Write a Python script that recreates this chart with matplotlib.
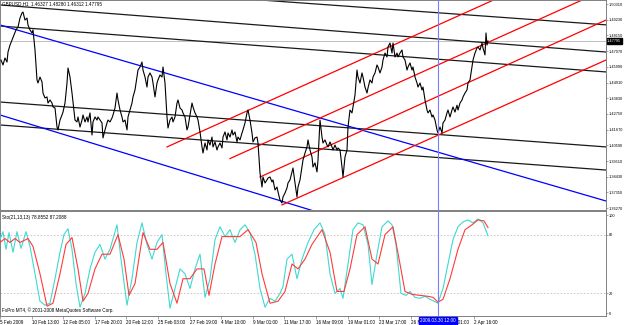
import matplotlib
matplotlib.use('Agg')
import matplotlib.pyplot as plt

FONT = ['Liberation Sans', 'DejaVu Sans']
FS = 3.3
FS_R = 2.75
plt.rcParams['font.family'] = FONT

# ---------------- data ----------------
bar_x = [1, 3, 5, 7, 8, 10, 12, 14, 16, 18, 20, 22, 23, 25, 27, 28, 30, 32, 33, 35,
         37, 38, 40, 42, 43, 45, 47, 48, 50, 52, 53, 55, 57, 58, 60, 62, 63, 65, 67, 68,
         70, 72, 73, 75, 77, 78, 80, 82, 83, 85, 87, 88, 90, 92, 93, 95, 97, 98, 100, 102,
         103, 105, 107, 108, 110, 112, 113, 115, 117, 118, 120, 122, 123, 125, 127, 128, 130, 132, 133, 135,
         137, 138, 140, 142, 143, 145, 147, 148, 150, 152, 153, 155, 157, 158, 160, 162, 163, 165, 167, 168,
         170, 172, 173, 175, 177, 178, 180, 182, 183, 185, 187, 188, 190, 192, 193, 195, 197, 198, 200, 202,
         203, 205, 207, 208, 210, 212, 213, 215, 217, 218, 220, 222, 223, 225, 227, 228, 230, 232, 233, 235,
         237, 238, 240, 242, 243, 245, 247, 248, 250, 252, 253, 255, 257, 258, 260, 262, 263, 265, 267, 268,
         270, 272, 273, 275, 277, 278, 280, 282, 283, 285, 287, 288, 290, 292, 293, 295, 297, 298, 300, 302,
         303, 305, 307, 308, 310, 312, 313, 315, 317, 318, 320, 322, 323, 325, 327, 328, 330, 332, 333, 335,
         337, 338, 340, 342, 343, 345, 347, 348, 350, 352, 353, 355, 357, 358, 360, 362, 363, 365, 367, 368,
         370, 372, 373, 375, 377, 378, 380, 382, 383, 385, 387, 388, 390, 392, 393, 395, 397, 398, 400, 402,
         403, 405, 407, 408, 410, 412, 413, 415, 417, 418, 420, 422, 423, 425, 427, 428, 430, 432, 433, 435,
         437, 438, 440, 442, 443, 445, 447, 448, 450, 452, 453, 455, 457, 458, 460, 462, 463, 465, 467, 468,
         470, 472, 473, 475, 477, 478, 480, 482, 483, 485, 486, 487, 488]
close = [1.4646, 1.4612, 1.4660, 1.4632, 1.4701, 1.4749, 1.4784, 1.4818, 1.4853, 1.4873, 1.4935, 1.4970, 1.4976, 1.4921, 1.4935, 1.4887, 1.4853, 1.4832, 1.4853, 1.4715,
         1.4509, 1.4488, 1.4529, 1.4495, 1.4419, 1.4385, 1.4392, 1.4350, 1.4371, 1.4350, 1.4323, 1.4316, 1.4185, 1.4165, 1.4233, 1.4268, 1.4288, 1.4350, 1.4488, 1.4591,
         1.4529, 1.4419, 1.4357, 1.4233, 1.4220, 1.4254, 1.4185, 1.4233, 1.4268, 1.4220, 1.4254, 1.4220, 1.4282, 1.4130, 1.4220, 1.4254, 1.4233, 1.4254, 1.4233, 1.4213,
         1.4110, 1.4165, 1.4213, 1.4233, 1.4220, 1.4247, 1.4268, 1.4316, 1.4419, 1.4371, 1.4302, 1.4254, 1.4220, 1.4233, 1.4165, 1.4254, 1.4302, 1.4350, 1.4392, 1.4440,
         1.4529, 1.4577, 1.4598, 1.4632, 1.4577, 1.4529, 1.4460, 1.4529, 1.4557, 1.4529, 1.4488, 1.4392, 1.4488, 1.4509, 1.4543, 1.4529, 1.4598, 1.4488, 1.4254, 1.4178,
         1.4233, 1.4254, 1.4220, 1.4254, 1.4350, 1.4371, 1.4316, 1.4302, 1.4282, 1.4254, 1.4165, 1.4185, 1.4268, 1.4350, 1.4323, 1.4282, 1.4254, 1.4233, 1.4151, 1.4048,
         1.4006, 1.4075, 1.4027, 1.4096, 1.4061, 1.4116, 1.4048, 1.4082, 1.4027, 1.4048, 1.4075, 1.4041, 1.4116, 1.4151, 1.4096, 1.4144, 1.4116, 1.4165, 1.4130, 1.4151,
         1.4082, 1.4116, 1.4096, 1.4144, 1.4165, 1.4213, 1.4282, 1.4302, 1.4233, 1.4144, 1.4082, 1.4110, 1.4116, 1.4075, 1.3869, 1.3772, 1.3841, 1.3800, 1.3821, 1.3834,
         1.3841, 1.3807, 1.3821, 1.3752, 1.3772, 1.3738, 1.3683, 1.3662, 1.3704, 1.3731, 1.3766, 1.3800, 1.3821, 1.3876, 1.3903, 1.3800, 1.3704, 1.3772, 1.3821, 1.3910,
         1.3958, 1.4006, 1.4048, 1.4096, 1.4027, 1.3979, 1.3910, 1.3938, 1.3876, 1.3958, 1.4233, 1.4116, 1.4075, 1.4096, 1.4061, 1.4048, 1.4082, 1.4048, 1.4027, 1.4061,
         1.4027, 1.4041, 1.4027, 1.3910, 1.3841, 1.3979, 1.4027, 1.4185, 1.4302, 1.4282, 1.4323, 1.4405, 1.4577, 1.4529, 1.4488, 1.4557, 1.4529, 1.4460, 1.4419, 1.4454,
         1.4509, 1.4488, 1.4529, 1.4557, 1.4612, 1.4598, 1.4557, 1.4598, 1.4646, 1.4694, 1.4667, 1.4736, 1.4763, 1.4694, 1.4763, 1.4667, 1.4694, 1.4667, 1.4694, 1.4715,
         1.4667, 1.4646, 1.4577, 1.4598, 1.4626, 1.4577, 1.4598, 1.4529, 1.4488, 1.4460, 1.4488, 1.4440, 1.4460, 1.4371, 1.4302, 1.4282, 1.4302, 1.4254, 1.4268, 1.4233,
         1.4165, 1.4144, 1.4185, 1.4144, 1.4213, 1.4233, 1.4282, 1.4302, 1.4254, 1.4302, 1.4323, 1.4288, 1.4335, 1.4302, 1.4350, 1.4371, 1.4392, 1.4419, 1.4440, 1.4488,
         1.4509, 1.4598, 1.4646, 1.4694, 1.4729, 1.4736, 1.4715, 1.4763, 1.4729, 1.4681, 1.4832, 1.4749, 1.4777]

# trendlines: (x0, price0, x1, price1)
black_lines = [(0, 1.5188, 606, 1.4888),
               (0, 1.5025, 606, 1.4701),
               (0, 1.4880, 606, 1.4564),
               (0, 1.4357, 606, 1.4048),
               (0, 1.4199, 606, 1.3889)]
blue_lines = [(0, 1.4887, 606, 1.3676),
              (0, 1.4268, 340, 1.3552)]
red_lines = [(167, 1.4048, 606, 1.5407),
             (230, 1.3968, 606, 1.5133),
             (260, 1.3841, 606, 1.4921),
             (282, 1.3649, 606, 1.4646)]

bid_price = 1.4777
bid_label = '1.47795'
cursor_bar = 438
cursor_label = '2009.03.30 12:00'

price_ticks = [1.36270, 1.37350, 1.38430, 1.39510, 1.40590, 1.41670, 1.42750,
               1.43830, 1.44910, 1.45990, 1.47070, 1.48150, 1.49230, 1.50310]

sto_x = [0, 3, 6, 9, 13, 17, 21, 26, 30, 35, 40, 45, 50, 55, 60, 64, 68, 72, 76, 80,
         85, 90, 95, 100, 105, 110, 117, 121, 127, 132, 137, 142, 147, 152, 157, 162, 166, 170, 175, 180,
         185, 190, 195, 200, 205, 210, 215, 220, 225, 230, 235, 240, 245, 250, 255, 260, 265, 270, 275, 280,
         283, 287, 292, 297, 302, 308, 314, 320, 325, 330, 335, 340, 343, 348, 353, 358, 363, 368, 372, 377,
         382, 388, 392, 396, 401, 406, 410, 415, 420, 425, 430, 434, 438, 443, 448, 453, 458, 463, 468, 473,
         478, 483, 488]
sto_main = [75, 83, 65, 82, 62, 83, 66, 83, 68, 40, 12, 8, 10, 35, 62, 80, 86, 65, 30, 6,
            20, 45, 62, 70, 55, 65, 90, 55, 8, 35, 72, 92, 70, 55, 72, 80, 40, 5, 25, 45,
            40, 25, 45, 60, 16, 35, 75, 88, 78, 85, 72, 85, 90, 82, 60, 25, 6, 15, 12, 20,
            27, 55, 60, 35, 55, 72, 85, 92, 80, 40, 20, 25, 15, 50, 85, 92, 90, 70, 29, 60,
            88, 94, 90, 70, 20, 18, 22, 16, 15, 17, 14, 12, 10, 25, 50, 75, 88, 93, 95, 92,
            96, 92, 78.9]
sig_x = [0, 5, 10, 15, 20, 28, 33, 40, 47, 53, 60, 66, 72, 78, 83, 88, 95, 102, 110, 118,
         124, 129, 135, 143, 150, 157, 163, 170, 177, 183, 190, 197, 204, 209, 215, 222, 230, 240, 248, 256,
         262, 270, 278, 285, 292, 298, 305, 312, 322, 330, 337, 344, 350, 357, 365, 372, 378, 385, 393, 400,
         405, 412, 420, 428, 433, 438, 443, 450, 458, 465, 472, 478, 484, 488]
sto_signal = [72, 76, 72, 76, 72, 76, 68, 40, 7, 10, 40, 70, 77, 45, 12, 20, 45, 60, 60, 80,
              55, 18, 30, 82, 65, 65, 72, 30, 10, 35, 35, 45, 45, 18, 50, 78, 78, 78, 85, 72,
              40, 10, 12, 22, 50, 45, 55, 70, 85, 62, 22, 22, 45, 80, 88, 55, 50, 80, 88, 50,
              22, 19, 18, 17, 16, 11, 14, 35, 65, 85, 90, 95, 94, 87.2]
sto_levels = [20, 80]
sto_ticks = [0, 20, 80, 100]

time_tick_x = [0, 31.6, 63.2, 94.8, 126.4, 158, 189.6, 221.2, 252.8, 284.4,
               316, 347.6, 379.2, 410.8, 442.4, 474]
time_labels = ['5 Feb 2009', '10 Feb 13:00', '12 Feb 05:00', '17 Feb 20:00', '20 Feb 12:00',
               '25 Feb 03:00', '27 Feb 19:00', '4 Mar 10:00', '9 Mar 01:00', '11 Mar 17:00',
               '16 Mar 09:00', '19 Mar 01:00', '23 Mar 17:00', '26 Mar 09:00', '31 Mar 01:00',
               '2 Apr 16:00']

# ---------------- figure ----------------
fig = plt.figure(figsize=(6.25, 3.25), dpi=100)
fig.patch.set_facecolor('white')

FW, FH = 625.0, 325.0
ax = fig.add_axes([0, (FH - 210) / FH, 606 / FW, 210 / FH])
axi = fig.add_axes([0, (FH - 316) / FH, 606 / FW, 105 / FH])

SPINE = '#808080'
for a in (ax, axi):
    a.set_facecolor('white')
    a.set_xlim(0, 606)
    for s in a.spines.values():
        s.set_color(SPINE)
        s.set_linewidth(0.7)

ax.set_ylim(1.3614, 1.5059)
axi.set_ylim(-3.06, 104.1)

# main panel
ax.axhline(bid_price, color='#c0c0c0', lw=0.7, zorder=1)
for x0, y0, x1, y1 in black_lines:
    ax.plot([x0, x1], [y0, y1], color='#1a1a1a', lw=0.9, zorder=2)
for x0, y0, x1, y1 in blue_lines:
    ax.plot([x0, x1], [y0, y1], color='#0000ff', lw=0.9, zorder=2)
for x0, y0, x1, y1 in red_lines:
    ax.plot([x0, x1], [y0, y1], color='#ff0000', lw=0.9, zorder=2)
ax.plot(bar_x, close, color='black', lw=0.8, zorder=3)
ax.axvline(cursor_bar, color='#7b7bff', lw=0.8, zorder=4)

ax.yaxis.tick_right()
ax.set_yticks(price_ticks)
ax.set_yticklabels([f'{v:.5f}' for v in price_ticks])
ax.tick_params(axis='y', direction='out', length=1.5, width=0.5, pad=0.6,
               labelsize=FS_R, colors=SPINE, labelcolor='black')
ax.set_xticks([])

ax.annotate(bid_label, xy=(1.0, bid_price), xycoords=('axes fraction', 'data'),
            xytext=(0.8, 0), textcoords='offset points', ha='left', va='center',
            color='white', fontsize=FS_R, zorder=10,
            bbox=dict(boxstyle='square,pad=0.15', fc='black', ec='black'),
            annotation_clip=False)

ax.text(2, 1.5059 - 0.0008, 'GBPUSD,H1  1.46327 1.48280 1.46312 1.47795',
        transform=ax.transData, fontsize=FS, ha='left', va='top', color='black',
        zorder=6)

# indicator panel
for lv in sto_levels:
    axi.axhline(lv, color='#c0c0c0', lw=0.6, ls=(0, (2, 2)), zorder=1)
axi.plot(sto_x, sto_main, color='#40d8d0', lw=0.8, zorder=3)
axi.plot(sig_x, sto_signal, color='#ff3b3b', lw=0.8, zorder=3)
axi.axvline(cursor_bar, color='#7b7bff', lw=0.8, zorder=4)

axi.yaxis.tick_right()
axi.set_yticks(sto_ticks)
axi.set_yticklabels([str(v) for v in sto_ticks])
axi.tick_params(axis='y', direction='out', length=1.5, width=0.5, pad=0.6,
                labelsize=FS_R, colors=SPINE, labelcolor='black')

axi.set_xticks(time_tick_x)
axi.set_xticklabels(time_labels, ha='left')
axi.tick_params(axis='x', direction='out', length=2, width=0.5, pad=1,
                labelsize=FS, colors=SPINE, labelcolor='black')

axi.text(2, 100.5, 'Sto(21,13,13) 78.8552 87.2088', fontsize=FS, ha='left', va='top',
         color='black', zorder=6)
axi.text(2, -0.5, 'FxPro MT4, \u00a9 2001-2008 MetaQuotes Software Corp.', fontsize=FS,
         ha='left', va='bottom', color='black', zorder=6)

axi.annotate(cursor_label, xy=(cursor_bar, 0.0), xycoords=('data', 'axes fraction'),
             xytext=(0, -3.6), textcoords='offset points', ha='center', va='center',
             color='white', fontsize=FS, zorder=10,
             bbox=dict(boxstyle='square,pad=0.25', fc='#0000ff', ec='#0000ff'),
             annotation_clip=False)

fig.savefig('out.png', dpi=100, facecolor='white')
